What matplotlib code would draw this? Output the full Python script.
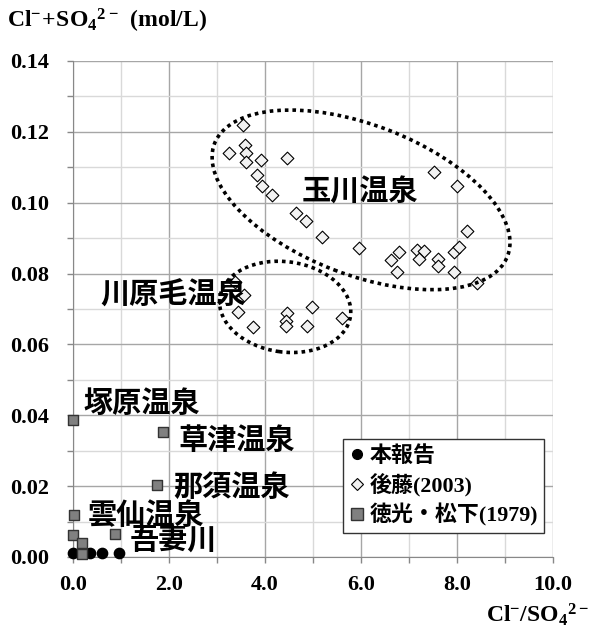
import matplotlib
matplotlib.use('Agg')
import matplotlib.pyplot as plt
from matplotlib.patches import Ellipse
from matplotlib.lines import Line2D
from matplotlib.ticker import MultipleLocator, FormatStrFormatter
import matplotlib.transforms as mtransforms

plt.rcParams['font.family'] = ['Liberation Serif', 'Noto Sans CJK JP']
plt.rcParams['font.weight'] = 'bold'
plt.rcParams['mathtext.fontset'] = 'custom'
plt.rcParams['mathtext.rm'] = 'Liberation Serif'
plt.rcParams['mathtext.bf'] = 'Liberation Serif:bold'

# This report (本報告)
report_x = [0.0, 0.2, 0.35, 0.6, 0.95]
report_y = [0.0012, 0.0016, 0.0012, 0.0011, 0.0012]

# Goto (2003): Tamagawa + Kawarage springs
goto_x = [3.55, 3.58, 3.24, 3.60, 3.60, 3.91, 4.45, 3.83, 3.93, 4.14,
          4.65, 4.85, 5.18, 5.95, 6.63, 6.79, 6.76, 7.16, 7.32, 7.21,
          7.61, 7.61, 7.94, 7.94, 8.05, 8.20, 7.53, 8.01, 8.41,
          3.38, 3.56, 3.44, 3.74, 4.46, 4.44, 4.44, 4.97, 4.87, 5.60]
goto_y = [0.1219, 0.1163, 0.1139, 0.1139, 0.1116, 0.1120, 0.1125, 0.1078, 0.1047, 0.1022,
          0.0972, 0.0949, 0.0902, 0.0871, 0.0838, 0.0860, 0.0804, 0.0867, 0.0864, 0.0840,
          0.0840, 0.0822, 0.0805, 0.0862, 0.0874, 0.0920, 0.1088, 0.1047, 0.0772,
          0.0775, 0.0740, 0.0692, 0.0650, 0.0690, 0.0667, 0.0652, 0.0705, 0.0652, 0.0674]

# Tokumitsu & Matsushita (1979)
tm_x = [0.0, 1.87, 1.76, 0.03, 0.875, 0.0, 0.18, 0.19]
tm_y = [0.0387, 0.0352, 0.0203, 0.0119, 0.0065, 0.0062, 0.0039, 0.0008]

# spring names and where they sit
spring_names = ['塚原温泉', '草津温泉', '那須温泉', '雲仙温泉', '吾妻川', '川原毛温泉', '玉川温泉']
name_x = [0.21, 2.19, 2.08, 0.31, 1.19, 0.56, 4.77]
name_y = [0.0435, 0.0330, 0.0198, 0.0119, 0.0048, 0.0740, 0.1030]

fig = plt.figure(figsize=(5.89, 6.35), dpi=100)
ax = fig.add_axes([73 / 589, 78 / 635, 480 / 589, 496 / 635])

ax.set_xlim(0, 10)
ax.set_ylim(0, 0.14)
ax.xaxis.set_major_locator(MultipleLocator(2))
ax.xaxis.set_minor_locator(MultipleLocator(1))
ax.yaxis.set_major_locator(MultipleLocator(0.02))
ax.yaxis.set_minor_locator(MultipleLocator(0.01))
ax.xaxis.set_major_formatter(FormatStrFormatter('%.1f'))
ax.yaxis.set_major_formatter(FormatStrFormatter('%.2f'))
ax.grid(which='major', color='#a6a6a6', lw=1)
ax.grid(which='minor', color='#d9d9d9', lw=1)
ax.set_axisbelow(True)
ax.tick_params(which='both', direction='out', length=4, color='#888888', width=1)
ax.tick_params(axis='y', which='major', labelsize=16, pad=13)
ax.tick_params(axis='x', which='major', labelsize=16, pad=9)
for side in ['top', 'right']:
    ax.spines[side].set_visible(False)
for side in ['left', 'bottom']:
    ax.spines[side].set_color('#888888')
for lbl in ax.get_xticklabels() + ax.get_yticklabels():
    lbl.set_fontweight('bold')

ax.scatter(goto_x, goto_y, marker='D', s=42, facecolor='#f2f2f2', edgecolor='black',
           lw=0.8, zorder=3, clip_on=False)
ax.scatter(report_x, report_y, marker='o', s=55, facecolor='black', edgecolor='black',
           zorder=3, clip_on=False)
ax.scatter(tm_x, tm_y, marker='s', s=60, facecolor='#808080', edgecolor='#333333',
           lw=1, zorder=4, clip_on=False)

# dotted rings drawn in points around a data-space centre
def ring(cx, cy, w_pt, h_pt, angle):
    tr = mtransforms.Affine2D().scale(1.0 / 72 * fig.dpi) + \
        mtransforms.ScaledTranslation(cx, cy, ax.transData)
    e = Ellipse((0, 0), w_pt, h_pt, angle=angle, fill=False, ec='black',
                lw=2.6, ls=(0, (1, 1.1)), transform=tr, zorder=5)
    ax.add_patch(e)

ring(6.0, 0.1008, 226, 108, -21)
ring(4.42, 0.0706, 95, 65, -8)

for name, x, y in zip(spring_names, name_x, name_y):
    ax.text(x, y, name, fontsize=21, fontweight='bold', ha='left', va='center',
            family=['Noto Sans CJK JP'], zorder=6)

handles = [
    Line2D([], [], ls='none', marker='o', ms=7, mfc='black', mec='black'),
    Line2D([], [], ls='none', marker='D', ms=6, mfc='#f2f2f2', mec='black', mew=0.8),
    Line2D([], [], ls='none', marker='s', ms=8, mfc='#808080', mec='#333333'),
]
leg = ax.legend(handles, ['本報告', '後藤(2003)', '徳光・松下(1979)'],
                loc='lower left', bbox_to_anchor=(0.5625, 0.048), borderaxespad=0,
                frameon=True, fancybox=False, framealpha=1, edgecolor='#333333',
                handlelength=0.7, handletextpad=0.2, borderpad=0.3, labelspacing=0.3,
                prop={'size': 15.8, 'weight': 'bold'})
leg.get_frame().set_linewidth(1)
leg.set_zorder(7)

fig.text(7 / 589, 1 - 28 / 635, r'$\mathbf{Cl^{-}\!+\!SO_{4}{}^{2-}\ (mol/L)}$',
         fontsize=17, ha='left', va='baseline')
fig.text(1.0, 1 - 622 / 635, r'$\mathbf{Cl^{-}/SO_{4}{}^{2-}}$',
         fontsize=17, ha='right', va='baseline')

fig.savefig('out.png', dpi=100, facecolor='white')
